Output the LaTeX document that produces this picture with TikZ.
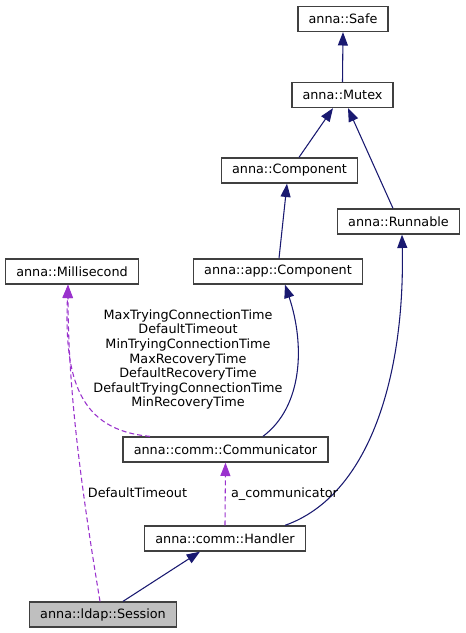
\documentclass[tikz,border=0pt]{standalone}
\usepackage{fontspec}
\setmainfont{DejaVu Sans}
\usepackage{tikz}
\usetikzlibrary{calc,arrows.meta}
\definecolor{edgeblue}{HTML}{191970}
\definecolor{edgepurple}{HTML}{9A32CD}
\begin{document}
\begin{tikzpicture}[x=0.75pt,y=-0.75pt,
    cls/.style={draw=black!75,line width=1pt,fill=white,inner xsep=8pt,inner ysep=0pt,minimum height=18.75pt,font=\fontsize{9.6pt}{10.9pt}\selectfont},
    inh/.style={edgeblue,line width=0.8pt,-{Triangle[length=10pt,width=7.5pt]}},
    use/.style={edgepurple,line width=0.8pt,dash pattern=on 3.75pt off 2.25pt,-{Triangle[length=10pt,width=7.5pt]}},
    lbl/.style={text=black,align=center,inner sep=0pt,font=\fontsize{9.6pt}{10.9pt}\selectfont}]
    \useasboundingbox (0,0) rectangle (466,633);
    \node[cls] (safe) at (343,19) {anna::Safe};
    \node[cls] (mutex) at (342.5,95) {anna::Mutex};
    \node[cls] (comp) at (289.5,170.5) {anna::Component};
    \node[cls] (runnable) at (398.5,221.5) {anna::Runnable};
    \node[cls] (milli) at (72,271.5) {anna::Millisecond};
    \node[cls] (appcomp) at (278,271.5) {anna::app::Component};
    \node[cls] (comm) at (225.5,449.5) {anna::comm::Communicator};
    \node[cls] (handler) at (225,538.5) {anna::comm::Handler};
    \node[cls,fill=black!25] (session) at (103,614.5) {anna::ldap::Session};
    \draw[inh] (mutex.north) -- (safe.south);
    \draw[inh] ($(comp.north)+(9.5,0)$) -- ($(mutex.south)+(-9.5,0)$);
    \draw[inh] ($(runnable.north)+(-5.5,0)$) -- ($(mutex.south)+(5.5,0)$);
    \draw[inh] ($(appcomp.north)+(1,0)$) -- ($(comp.south)+(-2.5,0)$);
    \draw[inh] ($(comm.north)+(37.5,0)$) .. controls +(40,-30) and +(20,60) .. ($(appcomp.south)+(7,0)$);
    \draw[inh] ($(handler.north)+(60,0)$) .. controls +(85,-30) and +(3,140) .. ($(runnable.south)+(3.5,0)$);
    \draw[inh] ($(session.north)+(20,0)$) -- ($(handler.south)+(-25,0)$);
    \draw[use] (handler.north) -- (comm.south) node[lbl,pos=0.5,anchor=west,xshift=4pt] {a\_communicator};
    \draw[use] ($(comm.north)+(-75.5,0)$) .. controls +(-70,-6) and +(-4,95) .. ($(milli.south)+(-4,0)$);
    \draw[use] ($(session.north)+(-3,0)$) .. controls +(-20,-120) and +(0,100) .. ($(milli.south)+(-4,0)$);
    \node[lbl] (multilbl) at (188,359.5) {MaxTryingConnectionTime\\DefaultTimeout\\MinTryingConnectionTime\\MaxRecoveryTime\\DefaultRecoveryTime\\DefaultTryingConnectionTime\\MinRecoveryTime};
    \node[lbl] (timeoutlbl) at (137.5,493) {DefaultTimeout};
\end{tikzpicture}
\end{document}
